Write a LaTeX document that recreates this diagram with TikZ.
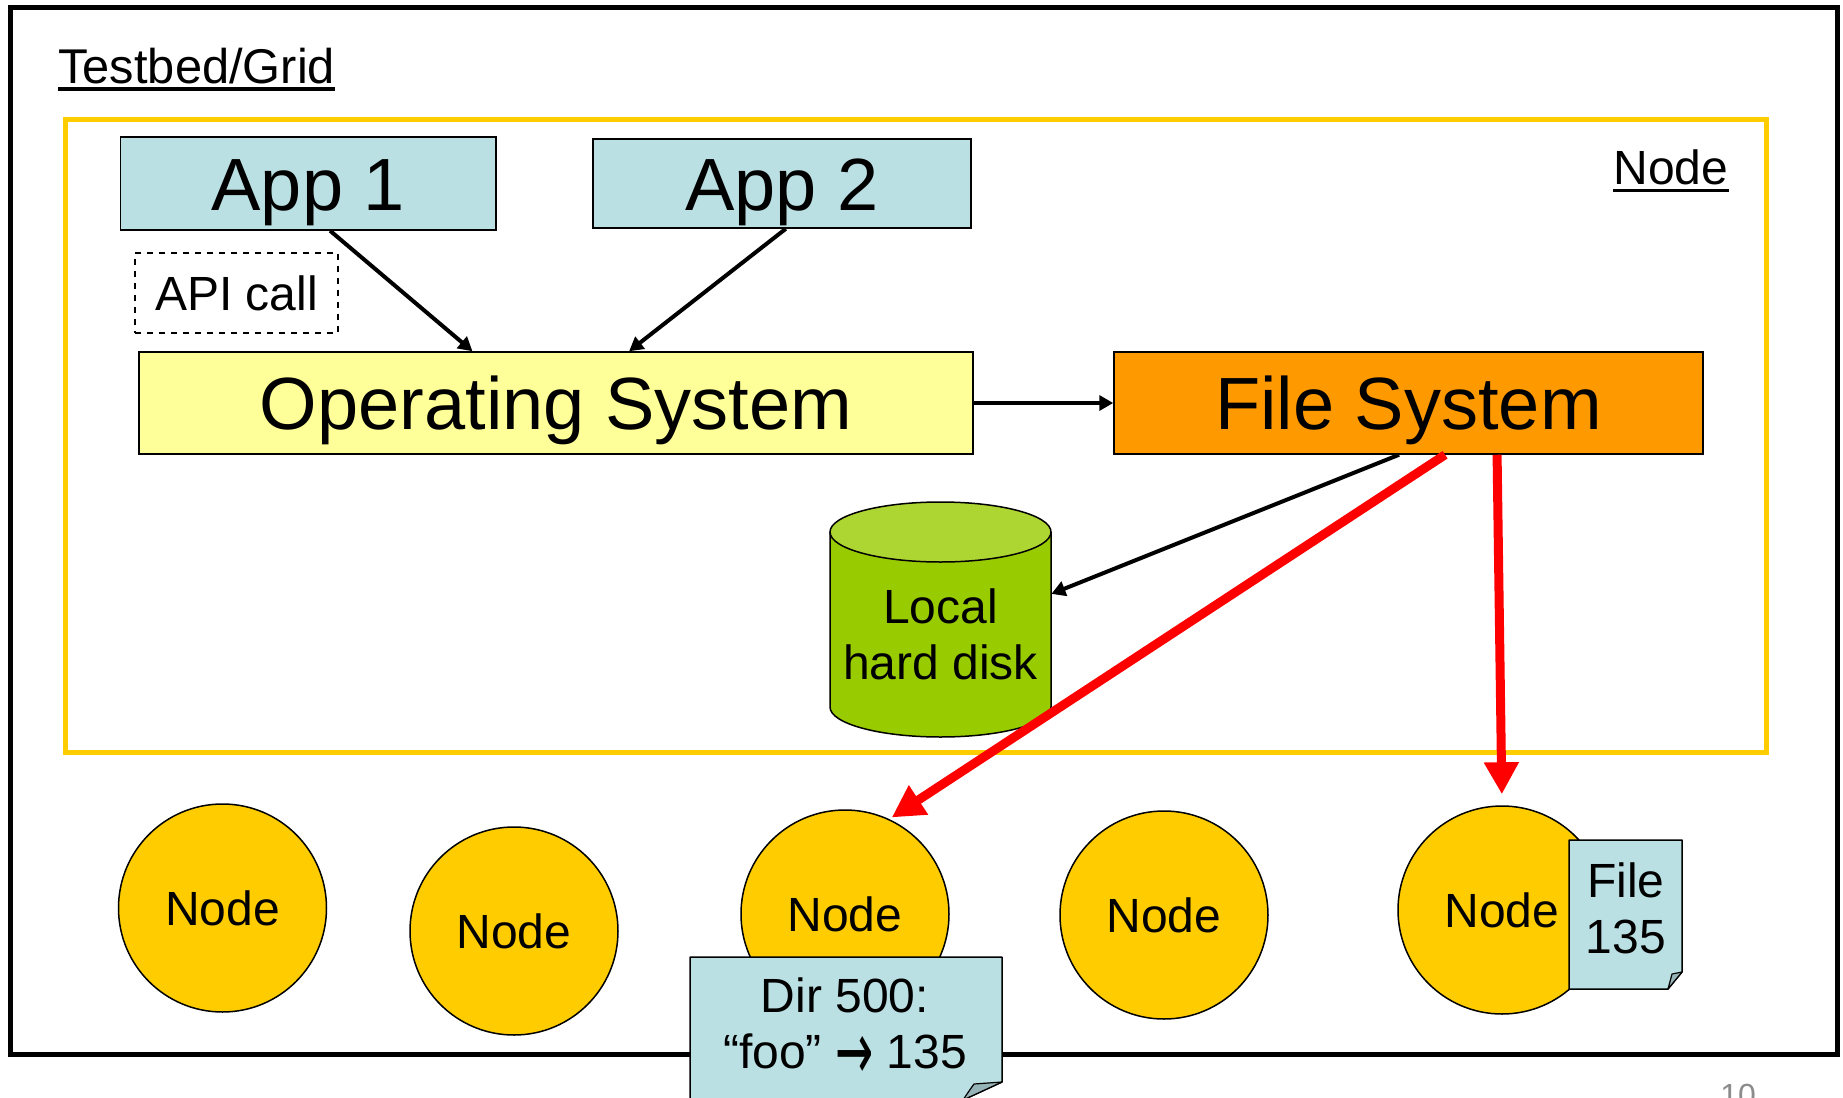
\documentclass[tikz,border=0pt]{standalone}
\usepackage{fontspec}
\usepackage{graphicx}
\setmainfont{Liberation Sans}
\newfontfamily\dejavufont{DejaVu Sans}
\usetikzlibrary{arrows.meta,calc,shapes.geometric}

\definecolor{appblue}{RGB}{187,224,227}
\definecolor{osyellow}{RGB}{255,255,153}
\definecolor{fsorange}{RGB}{255,153,0}
\definecolor{gold}{RGB}{255,204,0}
\definecolor{diskgreen}{RGB}{153,204,0}
\definecolor{disktop}{RGB}{173,214,51}
\definecolor{foldblue}{RGB}{150,180,184}
\definecolor{pagegray}{RGB}{140,140,140}

\begin{document}
\begin{tikzpicture}[x=0.5pt,y=-0.5pt,
  small/.style={font=\fontsize{24pt}{28pt}\selectfont},
  big/.style={font=\fontsize{37pt}{44pt}\selectfont},
  boxbase/.style={draw=black, line width=0.75pt, inner sep=0pt},
  bigbox/.style={boxbase, big, text height=26.5pt, text depth=0pt},
  nodecirc/.style={circle, draw=black, line width=0.75pt, fill=gold, minimum size=104pt,
                   inner sep=0pt, small, text height=17.2pt, text depth=0pt},
  blk/.style={draw=black, line width=2pt, -{Triangle[length=7pt,width=7.5pt]}},
  redarr/.style={draw=red, line width=4.5pt, -{Triangle[length=16pt,width=16.5pt]}},
  notefill/.style={fill=appblue, draw=black, line width=0.75pt, line join=round},
  foldfill/.style={fill=foldblue, draw=black, line width=0.6pt, line join=round},
  lbl/.style={small, inner sep=0pt, anchor=base west},
  multiline/.style={small, inner sep=0pt, anchor=base}
]
\useasboundingbox (0,0) rectangle (1843,1098);
\clip (0,0) rectangle (1843,1098);
\fill[white] (0,0) rectangle (1843,1098);

% frames
\draw[line width=2.5pt] (10,7.5) rectangle (1837,1054);
\draw[gold, line width=2.5pt] (65,119.5) rectangle (1766,752.5);

% labels
\node[lbl, font=\fontsize{24.4pt}{28pt}\selectfont] (tb) at (58,83) {Testbed/Grid};
\draw[line width=1.7pt] ($(tb.base west)+(0,6)$) -- ($(tb.base east)+(0,6)$);
\node[lbl] (nodelbl) at (1613,184) {Node};
\draw[line width=1.7pt] ($(nodelbl.base west)+(0,6.5)$) -- ($(nodelbl.base east)+(0,6.5)$);

% boxes
\node[bigbox, fill=appblue, minimum width=187.75pt, minimum height=46.5pt] (app1) at (308.25,183.5) {App 1};
\node[bigbox, fill=appblue, minimum width=189pt, minimum height=44.5pt] (app2) at (782,183.5) {App 2};
\node[boxbase, dashed, small, text height=17.2pt, text depth=0pt, minimum width=101.5pt, minimum height=40pt] (api) at (236.5,293) {API call};
\node[bigbox, fill=osyellow, minimum width=417pt, minimum height=51pt] (os) at (556,403) {Operating System};
\node[bigbox, fill=fsorange, minimum width=294.5pt, minimum height=51pt] (fs) at (1408.5,403) {File System};

% black arrows
\draw[blk] ($(app1.south west)!0.558!(app1.south east)$) -- ($(os.north west)!0.40!(os.north east)$);
\draw[blk] ($(app2.south west)!0.51!(app2.south east)$) -- ($(os.north west)!0.5875!(os.north east)$);
\draw[blk] (os.east) -- (fs.west);

% disk
\node[inner sep=0pt, minimum width=110.5pt, minimum height=117.5pt] (disk) at (940.5,619.5) {};
\fill[diskgreen] (830,532) -- (830,707) arc[start angle=180, end angle=360, x radius=55.25pt, y radius=15pt] -- (1051,532) -- cycle;
\draw[line width=0.75pt] (830,532) -- (830,707) arc[start angle=180, end angle=360, x radius=55.25pt, y radius=15pt] -- (1051,532);
\draw[line width=0.75pt, fill=disktop] (940.5,532) ellipse[x radius=55.25pt, y radius=15pt];
\node[multiline] (disktext) at (940.5,623) {\begin{tabular}[t]{@{}c@{}}Local\\hard disk\end{tabular}};
\draw[blk] ($(fs.south west)!0.484!(fs.south east)$) -- (disk.13);

% node circles
\node[nodecirc] (n1) at (222.5,908) {Node};
\node[nodecirc] (n2) at (514,931) {Node};
\node[nodecirc] (n3) at (845,914) {Node};
\node[nodecirc] (n4) at (1164,915) {Node};
\node[nodecirc] (n5) at (1502,910) {Node};

% notes
\path[notefill] (690,957) -- (1002,957) -- (1002,1082) -- (950,1106) -- (690,1106) -- cycle;
\path[foldfill] (1002,1082) -- (974,1084) .. controls (969,1091) .. (963,1100) -- cycle;
\node[multiline] (dirtext) at (845,1012) {\begin{tabular}[t]{@{}c@{}}Dir 500:\\“foo” {\dejavufont\raisebox{-5.5pt}{\scalebox{0.95}[1.7]{→}}} 135\end{tabular}};

\path[notefill] (1569,840) -- (1682,840) -- (1682,972) -- (1668,989) -- (1569,989) -- cycle;
\path[foldfill] (1682,972) -- (1672,974) .. controls (1670,981) .. (1668,989) -- cycle;
\node[multiline] (filetext) at (1626,897) {\begin{tabular}[t]{@{}c@{}}File\\135\end{tabular}};

% red arrows
\draw[redarr, shorten >=1.5pt] ($(fs.south west)!0.562!(fs.south east)$) -- (n3.65);
\draw[redarr, shorten >=5.5pt] ($(fs.south west)!0.65!(fs.south east)$) -- (n5.north);

% page number (cut off)
\node[font=\fontsize{16pt}{19pt}\selectfont, text=pagegray, inner sep=0pt, anchor=base west] (pg) at (1720,1106) {10};
\end{tikzpicture}
\end{document}
